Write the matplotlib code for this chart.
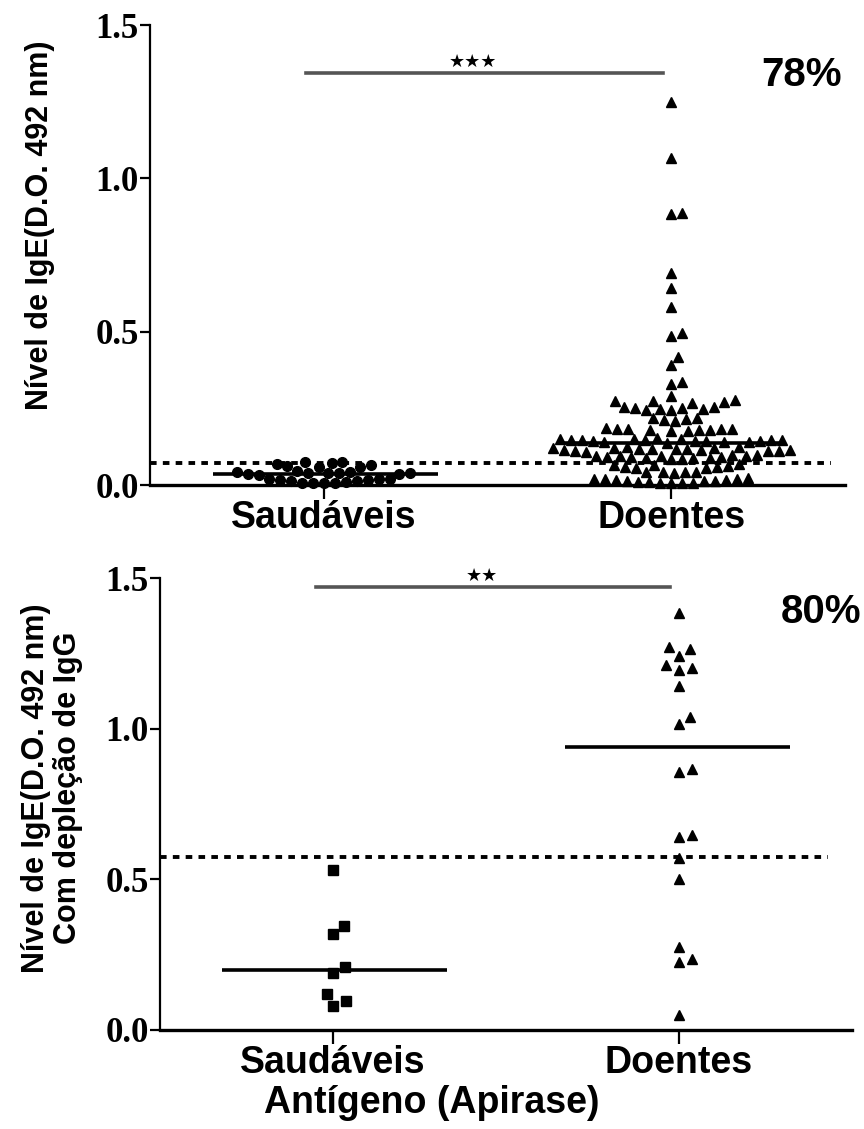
import numpy as np
import matplotlib
matplotlib.use('Agg')
import matplotlib.pyplot as plt

# ---- data ----
groups = ['Saudáveis', 'Doentes']

# top panel: IgE level (D.O. 492 nm)
saud_top = [0.075, 0.072, 0.062, 0.066, 0.060, 0.058, 0.070, 0.076,
            0.042, 0.040, 0.038, 0.036, 0.035, 0.034, 0.038, 0.040, 0.043, 0.045,
            0.020, 0.018, 0.015, 0.012, 0.010, 0.008, 0.006, 0.005, 0.008, 0.012,
            0.015, 0.020]
doen_top = [1.250, 1.065, 0.886, 0.884, 0.692, 0.641, 0.581, 0.495, 0.486,
            0.418, 0.391, 0.337, 0.329, 0.290,
            0.275, 0.273, 0.270, 0.268, 0.276,
            0.252, 0.248, 0.255, 0.245, 0.250, 0.247, 0.253, 0.244,
            0.218, 0.212, 0.215, 0.210, 0.220,
            0.182, 0.180, 0.178, 0.185, 0.176, 0.181, 0.179, 0.184, 0.177, 0.183,
            0.150, 0.146, 0.142, 0.148, 0.139, 0.152, 0.144, 0.147, 0.141, 0.149,
            0.143, 0.151, 0.136, 0.145, 0.140, 0.148, 0.146,
            0.120, 0.115, 0.112, 0.118, 0.122, 0.110, 0.125, 0.116, 0.113, 0.119,
            0.108, 0.121, 0.114, 0.117, 0.111, 0.123,
            0.095, 0.090, 0.088, 0.092, 0.097, 0.085, 0.093, 0.089, 0.096, 0.091,
            0.087, 0.094, 0.098, 0.086,
            0.066, 0.060, 0.058, 0.064, 0.068, 0.055, 0.062, 0.057,
            0.043, 0.041, 0.044, 0.040, 0.042,
            0.020, 0.018, 0.015, 0.012, 0.010, 0.008, 0.006, 0.005, 0.007, 0.010,
            0.013, 0.016, 0.019, 0.022, 0.014]
cutoff_top = 0.072
pct_top = '78%'
sig_top = '★★★'

# bottom panel: IgE level after IgG depletion
saud_bot = [0.53, 0.345, 0.32, 0.21, 0.19, 0.12, 0.095, 0.08]
doen_bot = [1.384, 1.27, 1.265, 1.24, 1.21, 1.195, 1.20, 1.14, 1.04, 1.015,
            0.866, 0.857, 0.647, 0.64, 0.57, 0.50, 0.275, 0.235, 0.226, 0.05]
cutoff_bot = 0.575
pct_bot = '80%'
sig_bot = '★★'

ylabel_1 = 'Nível de IgE(D.O. 492 nm)'
ylabel_2 = 'Com depleção de IgG'
xlabel = 'Antígeno (Apirase)'

SANS = ['Liberation Sans', 'DejaVu Sans']
SERIF = ['Liberation Serif', 'DejaVu Serif']


def swarm(ax, vals, center, d_px):
    """beeswarm x positions (data units), spacing worked out in display pixels"""
    fig = ax.figure
    fig.canvas.draw()
    vals = np.asarray(vals, float)
    ypx = ax.transData.transform(np.c_[np.full(len(vals), center), vals])[:, 1]
    x0 = ax.transData.transform((center, 0))[0]
    xpx_unit = ax.transData.transform((center + 1, 0))[0] - x0
    xs = np.zeros(len(vals))
    placed = []
    for i in np.argsort(ypx):
        y = ypx[i]
        near = [(px, py) for px, py in placed if abs(py - y) < d_px]
        cands = [0.0]
        for px, py in near:
            dx = np.sqrt(d_px ** 2 - (py - y) ** 2)
            cands += [px + dx, px - dx]
        cands.sort(key=abs)
        for c in cands:
            if all((c - px) ** 2 + (y - py) ** 2 >= d_px ** 2 - 1e-6 for px, py in near):
                xs[i] = c
                break
        placed.append((xs[i], y))
    return center + xs / xpx_unit


def panel(ax, saud, doen, m_saud, cutoff, sig, sig_y, cut_end, d_px):
    ax.set_xlim(0.5, 2.5)
    ax.set_ylim(0, 1.5)
    for s in ['top', 'right']:
        ax.spines[s].set_visible(False)
    ax.spines['left'].set_linewidth(1.6)
    ax.spines['bottom'].set_linewidth(2.4)
    ax.set_yticks([0.0, 0.5, 1.0, 1.5])
    ax.set_yticklabels(['0.0', '0.5', '1.0', '1.5'], family=SERIF,
                       fontweight='bold', fontsize=25)
    ax.set_xticks([1, 2])
    ax.set_xticklabels(groups, family=SANS, fontweight='bold', fontsize=27)
    ax.tick_params(axis='y', length=7, width=1.6, pad=1)
    ax.tick_params(axis='x', length=10, width=1.6, pad=1)

    xs1 = swarm(ax, saud, 1, d_px)
    xs2 = swarm(ax, doen, 2, d_px)
    ax.plot(xs1, saud, m_saud, color='black', ms=7, ls='none', clip_on=False, zorder=3)
    ax.plot(xs2, doen, '^', color='black', ms=7, ls='none', clip_on=False, zorder=3)

    ax.hlines(np.median(saud), 0.68, 1.33, color='black', lw=2.6, zorder=4)
    ax.hlines(np.median(doen), 1.67, 2.32, color='black', lw=2.6, zorder=4)
    ax.hlines(cutoff, 0.5, cut_end, color='black', lw=2.8,
              linestyles=(0, (1.7, 1.6)), zorder=2)

    ax.plot([0.95, 1.975], [sig_y, sig_y], color='#555555', lw=2.6, clip_on=False)
    ax.text(1.43, sig_y + 0.008, sig, ha='center', va='bottom', fontsize=13,
            family='DejaVu Sans', clip_on=False)


fig = plt.figure(figsize=(8.64, 11.29), dpi=100)
ax1 = fig.add_axes([150 / 864, 1 - 485 / 1129, 695 / 864, 460 / 1129])
ax2 = fig.add_axes([160 / 864, 1 - 1030 / 1129, 692 / 864, 452 / 1129])

panel(ax1, saud_top, doen_top, 'o', cutoff_top, sig_top, 1.343, 2.46, 11)
panel(ax2, saud_bot, doen_bot, 's', cutoff_bot, sig_bot, 1.47, 2.43, 13.5)

fig.text(802 / 864, 1 - 75 / 1129, pct_top, ha='center', va='center',
         family=SANS, fontweight='bold', fontsize=29)
fig.text(821 / 864, 1 - 612 / 1129, pct_bot, ha='center', va='center',
         family=SANS, fontweight='bold', fontsize=29)

fig.text(40 / 864, 1 - 225 / 1129, ylabel_1, rotation=90, ha='center', va='center',
         family=SANS, fontweight='bold', fontsize=22)
fig.text(52 / 864, 1 - 788 / 1129, ylabel_1 + '\n' + ylabel_2, rotation=90,
         ha='center', va='center', multialignment='center', linespacing=1.05,
         family=SANS, fontweight='bold', fontsize=22)
fig.text(432 / 864, 1 - 1103 / 1129, xlabel, ha='center', va='center',
         family=SANS, fontweight='bold', fontsize=27)

fig.savefig('out.png', dpi=100)
